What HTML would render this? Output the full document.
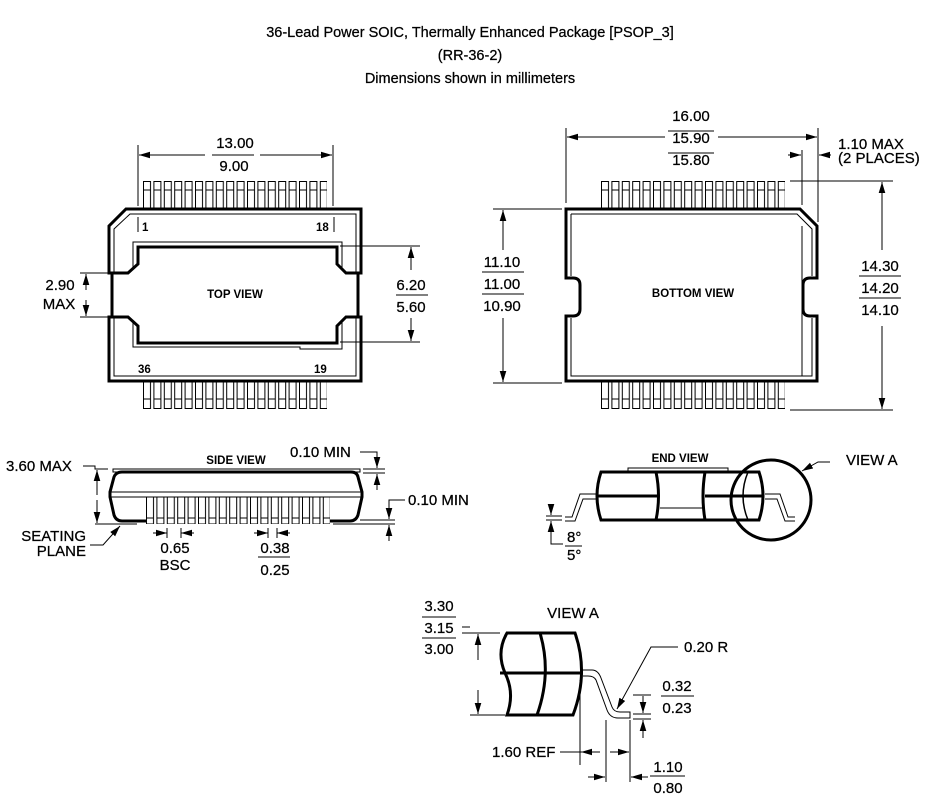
<!DOCTYPE html>
<html><head><meta charset="utf-8"><style>
html,body{margin:0;padding:0;background:#fff;}
svg{display:block;}
text{font-family:"Liberation Sans",Arial,sans-serif;fill:#000;stroke:#000;stroke-width:0.25px;}
.t{font-size:15px;}
.b{font-size:11.5px;font-weight:bold;stroke-width:0;}
.ti{font-size:14.5px;}
</style></head><body>
<svg width="942" height="798" viewBox="0 0 942 798" xmlns="http://www.w3.org/2000/svg">
<defs>
<marker id="a" viewBox="0 0 10 6" refX="10" refY="3" markerWidth="11" markerHeight="7" markerUnits="userSpaceOnUse" orient="auto"><path d="M0,0L10,3L0,6z" fill="#000"/></marker>
<pattern id="lt" x="143" y="181" width="10.4" height="40" patternUnits="userSpaceOnUse"><rect x="0.5" y="0.5" width="7" height="30" fill="#fff" stroke="#000" stroke-width="1"/><line x1="0.5" y1="9" x2="7.5" y2="9" stroke="#000"/></pattern>
<pattern id="lb" x="143" y="381" width="10.4" height="40" patternUnits="userSpaceOnUse"><rect x="0.5" y="-5" width="7" height="32.5" fill="#fff" stroke="#000" stroke-width="1"/><line x1="0.5" y1="18" x2="7.5" y2="18" stroke="#000"/></pattern>
<pattern id="lt2" x="601" y="181" width="10.4" height="40" patternUnits="userSpaceOnUse"><rect x="0.5" y="0.5" width="7" height="30" fill="#fff" stroke="#000" stroke-width="1"/><line x1="0.5" y1="9" x2="7.5" y2="9" stroke="#000"/></pattern>
<pattern id="lb2" x="601" y="381" width="10.4" height="40" patternUnits="userSpaceOnUse"><rect x="0.5" y="-5" width="7" height="32.5" fill="#fff" stroke="#000" stroke-width="1"/><line x1="0.5" y1="18" x2="7.5" y2="18" stroke="#000"/></pattern>
<pattern id="ls" x="146" y="497" width="10.4" height="40" patternUnits="userSpaceOnUse"><rect x="0.5" y="-2" width="7" height="29" fill="#fff" stroke="#000" stroke-width="1"/><line x1="0.5" y1="21" x2="7.5" y2="21" stroke="#000"/></pattern>
</defs>

<text class="ti" x="470" y="37" text-anchor="middle">36-Lead Power SOIC, Thermally Enhanced Package [PSOP_3]</text>
<text class="ti" x="470" y="60" text-anchor="middle">(RR-36-2)</text>
<text class="ti" x="470" y="83" text-anchor="middle">Dimensions shown in millimeters</text>

<g stroke="#000" fill="none">
<rect x="143" y="181" width="184" height="28" fill="url(#lt)" stroke="none"/>
<rect x="143" y="381" width="184" height="28" fill="url(#lb)" stroke="none"/>
<path d="M109,273 L109,226 L126,209 L361,209 L361,273 L346,273 L337,264 L337,247 L138,247 L138,264 L128,273 Z" stroke-width="3" fill="#fff"/>
<path d="M109,317 L109,381 L361,381 L361,317 L346,317 L337,326 L337,343 L138,343 L138,326 L128,317 Z" stroke-width="3" fill="#fff"/>
<line x1="112" y1="273" x2="112" y2="317" stroke-width="3"/>
<line x1="358" y1="273" x2="358" y2="317" stroke-width="3"/>
<path d="M114,273 L114,229 L130,214 L356,214 L356,273 M114,317 L114,376 L356,376 L356,317" stroke-width="1"/>
<path d="M133,270 L133,242 L342,242 L342,270 M133,320 L133,347 L300,347 L300,349 L342,349 L342,320" stroke-width="1"/>
<line x1="138" y1="217" x2="138" y2="232" stroke-width="1"/>
<line x1="334" y1="217" x2="334" y2="232" stroke-width="1"/>
<line x1="138" y1="145" x2="138" y2="206" stroke-width="1"/>
<line x1="333" y1="145" x2="333" y2="206" stroke-width="1"/>
<line x1="205" y1="155" x2="139" y2="155" marker-end="url(#a)"/>
<line x1="260" y1="155" x2="332" y2="155" marker-end="url(#a)"/>
<line x1="212" y1="155" x2="254" y2="155"/>
<line x1="80" y1="273" x2="108" y2="273"/>
<line x1="80" y1="317" x2="108" y2="317"/>
<line x1="86" y1="290" x2="86" y2="274" marker-end="url(#a)"/>
<line x1="86" y1="300" x2="86" y2="316" marker-end="url(#a)"/>
<line x1="340" y1="246" x2="420" y2="246"/>
<line x1="340" y1="342" x2="420" y2="342"/>
<line x1="411" y1="270" x2="411" y2="247" marker-end="url(#a)"/>
<line x1="411" y1="318" x2="411" y2="341" marker-end="url(#a)"/>
<line x1="396" y1="295" x2="428" y2="295"/>

<rect x="601" y="181" width="184" height="28" fill="url(#lt2)" stroke="none"/>
<rect x="601" y="381" width="184" height="28" fill="url(#lb2)" stroke="none"/>
<path d="M566,209 L800,209 L817,226 L817,278 L810,278 Q803,278 803,285 L803,309 Q803,316 810,316 L817,316 L817,381 L566,381 L566,316 L573,316 Q580,316 580,309 L580,285 Q580,278 573,278 L566,278 Z" stroke-width="3" fill="#fff"/>
<path d="M571,214 L797,214 L812,229 L812,276 M812,318 L812,376 L571,376 L571,318 M571,276 L571,214" stroke-width="1"/>
<line x1="802" y1="226" x2="802" y2="376" stroke-width="1"/>
<line x1="566" y1="128" x2="566" y2="203"/>
<line x1="818" y1="128" x2="818" y2="222"/>
<line x1="665" y1="137" x2="567" y2="137" marker-end="url(#a)"/>
<line x1="718" y1="137" x2="817" y2="137" marker-end="url(#a)"/>
<line x1="802" y1="150" x2="802" y2="205"/>
<line x1="788" y1="155" x2="801" y2="155" marker-end="url(#a)"/>
<line x1="831" y1="155" x2="819" y2="155" marker-end="url(#a)"/>
<line x1="668" y1="131" x2="714" y2="131"/>
<line x1="668" y1="153" x2="714" y2="153"/>
<line x1="493" y1="209" x2="562" y2="209"/>
<line x1="493" y1="383" x2="562" y2="383"/>
<line x1="503" y1="250" x2="503" y2="210" marker-end="url(#a)"/>
<line x1="503" y1="318" x2="503" y2="382" marker-end="url(#a)"/>
<line x1="482" y1="272" x2="524" y2="272"/>
<line x1="482" y1="294" x2="524" y2="294"/>
<line x1="790" y1="181" x2="893" y2="181"/>
<line x1="790" y1="410" x2="893" y2="410"/>
<line x1="882" y1="250" x2="882" y2="182" marker-end="url(#a)"/>
<line x1="882" y1="326" x2="882" y2="409" marker-end="url(#a)"/>
<line x1="859" y1="276" x2="901" y2="276"/>
<line x1="859" y1="298" x2="901" y2="298"/>

<rect x="146" y="497" width="184" height="27" fill="url(#ls)" stroke="none"/>
<rect x="113" y="469" width="247" height="3" stroke-width="1"/>
<path d="M146,521 L122,521 Q116,521 114,515 L110,497 L110,492 L114,477 Q116,472 122,472 L351,472 Q357,472 358,477 L362,492 L362,497 L358,515 Q356,521 350,521 L330,521" stroke-width="3"/>
<line x1="110" y1="492" x2="362" y2="492" stroke-width="1"/>
<line x1="110" y1="497" x2="362" y2="497" stroke-width="1"/>
<line x1="95" y1="524" x2="137" y2="524"/>
<line x1="333" y1="524" x2="380" y2="524"/>
<path d="M83,466 L95,466 L95,469 L108,469"/>
<line x1="97" y1="495" x2="97" y2="470" marker-end="url(#a)"/>
<line x1="97" y1="500" x2="97" y2="523" marker-end="url(#a)"/>
<path d="M360,452 L377,452 L377,468" marker-end="url(#a)"/>
<line x1="363" y1="469" x2="385" y2="469"/>
<line x1="363" y1="473" x2="385" y2="473"/>
<line x1="377" y1="490" x2="377" y2="474" marker-end="url(#a)"/>
<path d="M405,500 L389,500 L389,519" marker-end="url(#a)"/>
<line x1="360" y1="520" x2="395" y2="520"/>
<line x1="360" y1="524" x2="395" y2="524"/>
<line x1="389" y1="541" x2="389" y2="525" marker-end="url(#a)"/>
<path d="M90,545 L103,545 L120,526" marker-end="url(#a)"/>
<line x1="153" y1="533" x2="167" y2="533" marker-end="url(#a)"/>
<line x1="167" y1="528" x2="167" y2="538"/>
<line x1="194" y1="533" x2="181" y2="533" marker-end="url(#a)"/>
<line x1="181" y1="528" x2="181" y2="538"/>
<line x1="254" y1="533" x2="268" y2="533" marker-end="url(#a)"/>
<line x1="268" y1="528" x2="268" y2="538"/>
<line x1="290" y1="533" x2="277" y2="533" marker-end="url(#a)"/>
<line x1="277" y1="528" x2="277" y2="538"/>
<line x1="258" y1="557" x2="290" y2="557"/>

<rect x="628" y="468" width="100" height="4" stroke-width="1" fill="#fff"/>
<path d="M565,521 L575,521 L583,499 L596,499 M565,517 L572,517 L580,494 L596,494" stroke-width="1"/>
<path d="M795,521 L785,521 L777,499 L765,499 M795,517 L788,517 L780,494 L765,494" stroke-width="1"/>
<path d="M601,472 Q593,496 601,520 L759,520 Q767,496 759,472 Z" stroke-width="3" fill="#fff"/>
<line x1="597" y1="496" x2="657" y2="496" stroke-width="3"/>
<line x1="705" y1="496" x2="763" y2="496" stroke-width="3"/>
<line x1="660" y1="508" x2="703" y2="508" stroke-width="1"/>
<path d="M656,472 Q661,496 656,520 M705,472 Q701,496 705,520" stroke-width="3"/>
<path d="M748,472 Q738,496 748,520" stroke-width="1.5"/>
<circle cx="771" cy="500" r="40" stroke-width="3"/>
<path d="M830,462 L818,462 L802,471" marker-end="url(#a)"/>
<line x1="551" y1="504" x2="551" y2="515" marker-end="url(#a)"/>
<line x1="546" y1="516" x2="562" y2="516" stroke-width="1"/>
<line x1="546" y1="520" x2="562" y2="520" stroke-width="1"/>
<path d="M551,532 L551,521" marker-end="url(#a)"/>
<path d="M551,532 L551,544 L563,544" stroke-width="1"/>
<line x1="565" y1="546" x2="582" y2="546" stroke-width="1"/>

<!-- VIEW A -->
<path d="M583,670 L592,670 Q598,670 601,678 L612,707 Q614,712 620,712 L630,712 L630,718 L618,718 Q610,718 607,710 L596,680 Q594,676 588,676 L583,676" stroke-width="1"/>
<path d="M507,633 L575,633 Q589,673 573,715 L507,715 Q515,693 505,673 Q496,652 507,633 Z" stroke-width="3" fill="#fff"/>
<line x1="500" y1="673" x2="583" y2="673" stroke-width="3"/>
<path d="M540,633 Q552,673 537,715" stroke-width="3"/>
<line x1="462" y1="633" x2="500" y2="633" stroke-width="1"/>
<line x1="478" y1="660" x2="478" y2="634" marker-end="url(#a)"/>
<line x1="478" y1="690" x2="478" y2="714" marker-end="url(#a)"/>
<line x1="470" y1="715" x2="505" y2="715" stroke-width="1"/>
<line x1="462" y1="627" x2="470" y2="627" stroke-width="1"/>
<line x1="422" y1="617" x2="456" y2="617"/>
<line x1="422" y1="638" x2="456" y2="638"/>
<path d="M678,647 L651,647 L617,709" marker-end="url(#a)"/>
<line x1="633" y1="695" x2="651" y2="695" stroke-width="1"/>
<line x1="643" y1="696" x2="643" y2="713" marker-end="url(#a)"/>
<line x1="633" y1="714" x2="651" y2="714" stroke-width="1"/>
<line x1="633" y1="719" x2="651" y2="719" stroke-width="1"/>
<line x1="643" y1="738" x2="643" y2="720" marker-end="url(#a)"/>
<line x1="661" y1="696" x2="694" y2="696"/>
<line x1="580" y1="680" x2="580" y2="765" stroke-width="1"/>
<line x1="606" y1="720" x2="606" y2="782" stroke-width="1"/>
<line x1="630" y1="720" x2="630" y2="782" stroke-width="1"/>
<line x1="560" y1="752" x2="581" y2="752"/>
<line x1="600" y1="752" x2="581" y2="752" marker-end="url(#a)"/>
<line x1="610" y1="752" x2="629" y2="752" marker-end="url(#a)"/>
<line x1="588" y1="777" x2="605" y2="777" marker-end="url(#a)"/>
<line x1="648" y1="777" x2="631" y2="777" marker-end="url(#a)"/>
<line x1="650" y1="776" x2="685" y2="776"/>
</g>

<text class="t" x="235" y="148" text-anchor="middle">13.00</text>
<text class="t" x="234" y="171" text-anchor="middle">9.00</text>
<text class="t" x="60" y="290" text-anchor="middle">2.90</text>
<text class="t" x="59" y="309" text-anchor="middle">MAX</text>
<text class="t" x="411" y="290" text-anchor="middle">6.20</text>
<text class="t" x="411" y="312" text-anchor="middle">5.60</text>
<text class="b" x="235" y="298" text-anchor="middle">TOP VIEW</text>
<text class="b" x="142" y="231">1</text>
<text class="b" x="316" y="231">18</text>
<text class="b" x="138" y="373">36</text>
<text class="b" x="314" y="373">19</text>

<text class="t" x="691" y="121" text-anchor="middle">16.00</text>
<text class="t" x="691" y="143" text-anchor="middle">15.90</text>
<text class="t" x="691" y="165" text-anchor="middle">15.80</text>
<text class="t" x="838" y="149">1.10 MAX</text>
<text class="t" x="838" y="163">(2 PLACES)</text>
<text class="t" x="502" y="267" text-anchor="middle">11.10</text>
<text class="t" x="502" y="289" text-anchor="middle">11.00</text>
<text class="t" x="502" y="311" text-anchor="middle">10.90</text>
<text class="t" x="880" y="271" text-anchor="middle">14.30</text>
<text class="t" x="880" y="293" text-anchor="middle">14.20</text>
<text class="t" x="880" y="315" text-anchor="middle">14.10</text>
<text class="b" x="693" y="297" text-anchor="middle">BOTTOM VIEW</text>

<text class="t" x="6" y="471">3.60 MAX</text>
<text class="b" x="236" y="464" text-anchor="middle">SIDE VIEW</text>
<text class="t" x="290" y="457">0.10 MIN</text>
<text class="t" x="408" y="505">0.10 MIN</text>
<text class="t" x="86" y="541" text-anchor="end">SEATING</text>
<text class="t" x="86" y="556" text-anchor="end">PLANE</text>
<text class="t" x="175" y="553" text-anchor="middle">0.65</text>
<text class="t" x="175" y="570" text-anchor="middle">BSC</text>
<text class="t" x="275" y="553" text-anchor="middle">0.38</text>
<text class="t" x="275" y="575" text-anchor="middle">0.25</text>

<text class="b" x="680" y="462" text-anchor="middle">END VIEW</text>
<text class="t" x="846" y="465">VIEW A</text>
<text class="t" x="567" y="542">8°</text>
<text class="t" x="567" y="560">5°</text>

<text class="t" x="573" y="618" text-anchor="middle">VIEW A</text>
<text class="t" x="439" y="611" text-anchor="middle">3.30</text>
<text class="t" x="439" y="633" text-anchor="middle">3.15</text>
<text class="t" x="439" y="654" text-anchor="middle">3.00</text>
<text class="t" x="684" y="652">0.20 R</text>
<text class="t" x="677" y="691" text-anchor="middle">0.32</text>
<text class="t" x="677" y="713" text-anchor="middle">0.23</text>
<text class="t" x="492" y="757">1.60 REF</text>
<text class="t" x="668" y="772" text-anchor="middle">1.10</text>
<text class="t" x="668" y="793" text-anchor="middle">0.80</text>
</svg>
</body></html>
